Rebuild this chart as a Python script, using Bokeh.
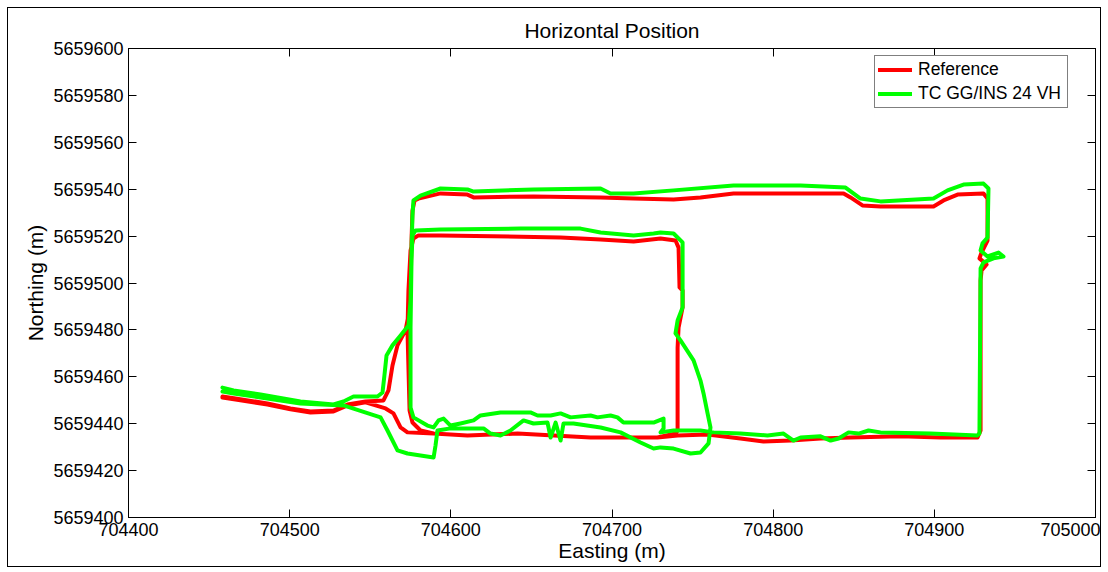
from bokeh.plotting import figure
from bokeh.models import (Range1d, LinearAxis, FixedTicker, BasicTickFormatter,
                          Legend, LegendItem, ColumnDataSource)
from bokeh.embed import file_html
from bokeh.resources import INLINE

# Axis ticks
x_ticks = [704400, 704500, 704600, 704700, 704800, 704900, 705000]
y_ticks = [5659400, 5659420, 5659440, 5659460, 5659480, 5659500,
           5659520, 5659540, 5659560, 5659580, 5659600]

# Reference trajectory (Easting / Northing, m)
ref_e = [704458.3, 704466.4, 704486.2, 704500.5, 704512.9, 704527.2, 704535.9, 704547.1, 704558.2,
         704561.3, 704563.8, 704566.9, 704571.9, 704573.7, 704575.0, 704575.6, 704576.2, 704577.5, 704579.9,
         704593.6, 704610.3, 704614.1, 704651.3, 704692.9, 704713.4, 704738.2, 704754.9, 704775.4, 704817.0,
         704843.7, 704848.0, 704855.4, 704866.6, 704899.5, 704905.7, 704914.4, 704930.5, 704933.0,
         704933.0, 704929.3, 704928.0, 704932.4, 704929.3, 704928.7, 704928.7, 704926.8,
         704903.8, 704879.0, 704848.0, 704829.4, 704810.8, 704794.0, 704779.7, 704759.3, 704740.7, 704728.2,
         704686.7, 704641.4, 704610.3, 704589.3, 704581.2, 704576.2, 704574.4, 704573.1, 704573.7, 704575.0,
         704576.8, 704579.9,
         704593.6, 704668.1, 704692.9, 704713.4, 704730.1, 704739.4, 704741.3, 704741.9, 704743.8, 704743.8,
         704741.3, 704740.7, 704740.7, 704739.4,
         704728.2, 704686.7, 704641.4, 704610.3, 704589.3, 704573.1, 704568.8, 704564.4, 704559.5, 704547.1,
         704535.9, 704527.2, 704512.9, 704500.5, 704486.2, 704466.4, 704458.3]
ref_n = [5659451.6, 5659450.8, 5659448.6, 5659446.5, 5659445.2, 5659445.6, 5659448.2, 5659449.5, 5659449.9,
         5659454.2, 5659464.8, 5659473.4, 5659479.8, 5659486.2, 5659496.8, 5659518.1, 5659530.9, 5659535.2, 5659536.0,
         5659538.2, 5659537.7, 5659536.5, 5659536.9, 5659536.5, 5659536.0, 5659535.6, 5659536.5, 5659538.2, 5659538.2,
         5659538.2, 5659536.5, 5659533.1, 5659532.6, 5659532.6, 5659535.2, 5659537.7, 5659538.2, 5659536.0,
         5659518.1, 5659513.0, 5659510.5, 5659507.9, 5659505.3, 5659501.1, 5659437.1, 5659434.1,
         5659434.1, 5659434.6, 5659434.1, 5659433.7, 5659432.8, 5659432.4, 5659433.7, 5659435.4, 5659435.0, 5659434.1,
         5659434.1, 5659435.8, 5659435.0, 5659435.8, 5659437.1, 5659440.5, 5659445.6, 5659479.8, 5659496.8, 5659513.9,
         5659519.0, 5659520.3,
         5659520.3, 5659519.4, 5659518.6, 5659517.7, 5659519.0, 5659518.1, 5659515.1, 5659498.1, 5659496.8, 5659489.6,
         5659481.0, 5659472.5, 5659437.1, 5659435.8,
         5659434.1, 5659434.1, 5659435.8, 5659435.0, 5659435.8, 5659436.3, 5659438.4, 5659444.4, 5659446.5, 5659449.1,
         5659447.8, 5659445.2, 5659444.8, 5659446.1, 5659448.2, 5659450.3, 5659451.2]

# TC GG/INS 24 VH solution (Easting / Northing, m)
ins_e = [704458.3, 704465.2, 704481.9, 704506.7, 704527.2, 704533.4, 704539.6, 704554.5, 704557.6,
         704558.8, 704560.1, 704563.8, 704568.8, 704573.7, 704575.0, 704575.6, 704576.2, 704576.8, 704581.2,
         704593.6, 704610.3, 704614.1, 704651.3, 704692.9, 704699.1, 704713.4, 704738.2, 704775.4, 704817.0,
         704844.9, 704854.2, 704866.6, 704899.5, 704908.2, 704918.1, 704930.5, 704933.6, 704933.0, 704929.9,
         704928.7, 704933.0, 704939.8, 704942.9, 704936.7, 704930.5, 704928.7, 704928.0, 704926.8,
         704897.6, 704866.6, 704859.2, 704853.0, 704846.8, 704840.6, 704835.6, 704829.4, 704817.0, 704812.6,
         704806.4, 704796.5, 704779.7, 704763.0, 704754.9, 704738.2, 704730.1,
         704732.0, 704732.0, 704725.8, 704707.1, 704703.4, 704699.1, 704691.0, 704686.7, 704674.3, 704668.1,
         704661.9, 704653.8, 704649.4, 704630.8, 704618.4, 704614.1, 704606.0, 704599.8, 704595.5, 704592.4,
         704589.3, 704585.5, 704576.8, 704575.0,
         704575.0, 704575.6, 704576.2, 704578.1, 704593.6, 704643.2, 704680.5, 704692.9, 704713.4, 704725.8,
         704730.1, 704738.2, 704743.8, 704743.8, 704740.7, 704739.4, 704742.5, 704750.6, 704754.9, 704756.8,
         704759.3, 704761.1, 704759.9, 704754.9, 704748.7, 704738.2, 704730.1, 704725.8, 704717.7, 704705.3,
         704692.9, 704676.1, 704669.9, 704668.1, 704665.0, 704661.9, 704660.0, 704651.3, 704645.1, 704637.0,
         704630.8, 704624.6, 704620.3, 704599.8, 704591.7,
         704590.5, 704589.3, 704573.1, 704566.9, 704560.7, 704556.4, 704533.4, 704506.7, 704481.9, 704465.2,
         704458.3]
ins_n = [5659455.4, 5659454.2, 5659452.5, 5659449.5, 5659448.2, 5659449.5, 5659451.6, 5659451.6, 5659453.3,
         5659460.6, 5659469.1, 5659473.4, 5659477.6, 5659481.9, 5659492.5, 5659513.9, 5659528.8, 5659535.2, 5659537.3,
         5659540.3, 5659539.9, 5659539.0, 5659539.9, 5659540.3, 5659538.2, 5659538.2, 5659539.5, 5659541.6, 5659541.6,
         5659540.7, 5659536.0, 5659534.8, 5659536.0, 5659539.5, 5659542.0, 5659542.4, 5659540.3, 5659519.4, 5659516.9,
         5659513.9, 5659511.3, 5659513.0, 5659511.3, 5659510.5, 5659508.8, 5659506.2, 5659435.8, 5659435.0,
         5659435.8, 5659436.3, 5659437.1, 5659435.8, 5659436.3, 5659433.7, 5659432.8, 5659434.6, 5659434.1, 5659432.8,
         5659435.8, 5659435.0, 5659435.8, 5659436.3, 5659437.1, 5659437.1, 5659436.3,
         5659438.0, 5659442.2, 5659440.5, 5659440.5, 5659442.7, 5659443.5, 5659442.7, 5659443.5, 5659442.7, 5659444.4,
         5659443.5, 5659443.5, 5659444.8, 5659444.8, 5659443.5, 5659441.4, 5659440.1, 5659439.2, 5659442.2, 5659441.4,
         5659438.4, 5659439.2, 5659442.7, 5659446.9,
         5659481.0, 5659509.6, 5659520.3, 5659522.4, 5659522.8, 5659523.2, 5659523.2, 5659521.5, 5659520.3, 5659521.1,
         5659521.5, 5659521.1, 5659517.3, 5659489.6, 5659484.0, 5659478.5, 5659475.5, 5659467.0, 5659458.4, 5659452.9,
         5659444.4, 5659438.4, 5659431.6, 5659427.7, 5659427.3, 5659429.4, 5659429.9, 5659429.4, 5659432.0, 5659436.3,
         5659438.4, 5659440.1, 5659440.1, 5659432.8, 5659440.5, 5659434.1, 5659440.5, 5659440.1, 5659441.4, 5659437.1,
         5659435.0, 5659435.8, 5659438.0, 5659438.0, 5659437.1,
         5659430.7, 5659425.6, 5659427.3, 5659428.6, 5659437.1, 5659442.7, 5659447.8, 5659448.6, 5659451.2, 5659452.9,
         5659453.7]

FONT = "Liberation Sans"

p = figure(frame_width=967, frame_height=469,
           x_range=Range1d(x_ticks[0], x_ticks[-1]),
           y_range=Range1d(y_ticks[0], y_ticks[-1]),
           output_backend="svg", toolbar_location=None,
           min_border_left=120, min_border_right=5,
           min_border_top=40, min_border_bottom=49,
           title="Horizontal Position", margin=(7, 7, 7, 7))
p.styles = {"border": "1px solid black"}

p.title.align = "center"
p.title.text_font = FONT
p.title.text_font_size = "21px"
p.title.text_font_style = "normal"
p.title.text_color = "black"
p.title.standoff = 14

p.xgrid.visible = False
p.ygrid.visible = False
p.outline_line_color = "black"
p.outline_line_width = 1
p.background_fill_color = "white"
p.border_fill_color = "white"


def style_axis(ax, ticks, show_labels):
    ax.ticker = FixedTicker(ticks=ticks)
    ax.formatter = BasicTickFormatter(use_scientific=False)
    ax.major_tick_in = 8
    ax.major_tick_out = 0
    ax.minor_tick_line_color = None
    ax.axis_line_color = "black"
    ax.major_tick_line_color = "black"
    if show_labels:
        ax.major_label_text_font = FONT
        ax.major_label_text_font_size = "18px"
        ax.major_label_text_color = "black"
        ax.axis_label_text_font = FONT
        ax.axis_label_text_font_size = "21px"
        ax.axis_label_text_font_style = "normal"
        ax.axis_label_text_color = "black"
    else:
        # tick marks only on the mirrored sides of the box
        ax.major_label_text_font_size = "1px"
        ax.major_label_text_color = None
        ax.major_label_standoff = 0


style_axis(p.xaxis[0], x_ticks, True)
style_axis(p.yaxis[0], y_ticks, True)
p.xaxis[0].axis_label = "Easting (m)"
p.yaxis[0].axis_label = "Northing (m)"
p.xaxis[0].major_label_standoff = 5
p.xaxis[0].axis_label_standoff = 0
p.yaxis[0].major_label_standoff = 5
p.yaxis[0].axis_label_standoff = 3

top_axis = LinearAxis()
right_axis = LinearAxis()
style_axis(top_axis, x_ticks, False)
style_axis(right_axis, y_ticks, False)
p.add_layout(top_axis, "above")
p.add_layout(right_axis, "right")

ref_src = ColumnDataSource(dict(e=ref_e, n=ref_n))
ins_src = ColumnDataSource(dict(e=ins_e, n=ins_n))

r_ref = p.line("e", "n", source=ref_src, line_color="#ff0000", line_width=4,
               line_join="round", line_cap="round")
r_ins = p.line("e", "n", source=ins_src, line_color="#00ff00", line_width=4,
               line_join="round", line_cap="round")

legend = Legend(items=[LegendItem(label="Reference", renderers=[r_ref]),
                       LegendItem(label="TC GG/INS 24 VH", renderers=[r_ins])],
                location=(746, 409))
legend.label_text_font = FONT
legend.label_text_font_size = "17.5px"
legend.label_text_color = "black"
legend.glyph_width = 34
legend.glyph_height = 21
legend.label_height = 21
legend.label_width = 146
legend.label_standoff = 6
legend.padding = 3
legend.spacing = 3
legend.margin = 0
legend.border_line_color = "black"
legend.border_line_width = 1
legend.background_fill_color = "white"
legend.background_fill_alpha = 1
p.add_layout(legend, "center")

open("out.html", "w").write(file_html(p, INLINE))
